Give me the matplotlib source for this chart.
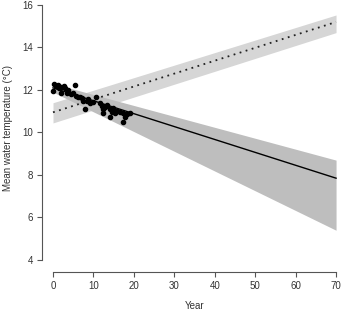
import matplotlib
matplotlib.use("Agg")
import matplotlib.pyplot as plt
import numpy as np

plt.rcParams['font.family'] = ['Liberation Sans', 'DejaVu Sans']

# observed data
obs_year = [0.1, 0.25, 0.74, 1.3, 1.6, 1.9, 2.1, 2.7, 3.0, 3.4, 3.8, 4.4, 5.0, 5.4,
            5.7, 6.3, 6.7, 7.1, 7.5, 7.9, 8.3, 8.7, 9.2, 10.0, 10.6, 11.5, 12.0,
            12.3, 12.4, 12.9, 13.3, 14.1, 14.1, 14.5, 14.9, 15.3, 15.8, 16.6,
            17.4, 17.4, 17.8, 18.2, 19.0]
obs_temp = [11.97, 12.28, 12.19, 12.24, 12.08, 11.84, 12.13, 12.19, 12.08, 11.84,
            12.0, 11.81, 11.84, 12.25, 11.72, 11.69, 11.66, 11.61, 11.5, 11.09,
            11.5, 11.56, 11.4, 11.45, 11.69, 11.37, 11.25, 11.09, 10.9, 11.19,
            11.29, 11.09, 10.74, 10.98, 11.14, 10.93, 11.03, 10.98, 10.9, 10.51,
            10.74, 10.87, 10.93]

# projections
proj_year = [0, 70]
decl_fit = [12.1, 7.85]
decl_upper = [12.3, 8.7]
decl_lower = [11.9, 5.4]
incr_fit = [10.95, 15.2]
incr_upper = [11.4, 15.53]
incr_lower = [10.45, 14.7]

xticks = [0, 10, 20, 30, 40, 50, 60, 70]
yticks = [4, 6, 8, 10, 12, 14, 16]

W, H = 349, 311
fig = plt.figure(figsize=(W / 100, H / 100), dpi=100)
ax = fig.add_axes([42 / W, (H - 272) / H, (W - 42) / W, 272 / H])
ax.set_xlim(-2.72, 73.2)
ax.set_ylim(3.435, 16.235)

ax.fill_between(proj_year, incr_lower, incr_upper, color='#d6d6d6', lw=0, zorder=1)
ax.fill_between(proj_year, decl_lower, decl_upper, color='#bebebe', lw=0, zorder=2)
ax.plot(proj_year, incr_fit, color='#222222', lw=1.3, linestyle=(0, (1, 2.5)), zorder=3)
ax.plot(proj_year, decl_fit, color='black', lw=1.0, zorder=3)
ax.plot(obs_year, obs_temp, 'o', color='black', markersize=3.0, zorder=4)

for s in ['top', 'right']:
    ax.spines[s].set_visible(False)
ax.spines['left'].set_bounds(4, 16)
ax.spines['bottom'].set_bounds(0, 70)
for s in ['left', 'bottom']:
    ax.spines[s].set_color('#555555')
    ax.spines[s].set_linewidth(0.8)
ax.set_xticks(xticks)
ax.set_yticks(yticks)
ax.tick_params(axis='both', direction='out', length=3.6, width=0.8, color='#555555',
               labelsize=7, labelcolor='#333333', pad=3)

fig.text(195 / W, 1 - 306 / H, 'Year', ha='center', va='center', fontsize=7, color='#333333')
fig.text(8 / W, 1 - 128 / H, 'Mean water temperature (°C)', ha='center', va='center',
         rotation=90, fontsize=7, color='#333333')

fig.savefig('out.png', dpi=100)
